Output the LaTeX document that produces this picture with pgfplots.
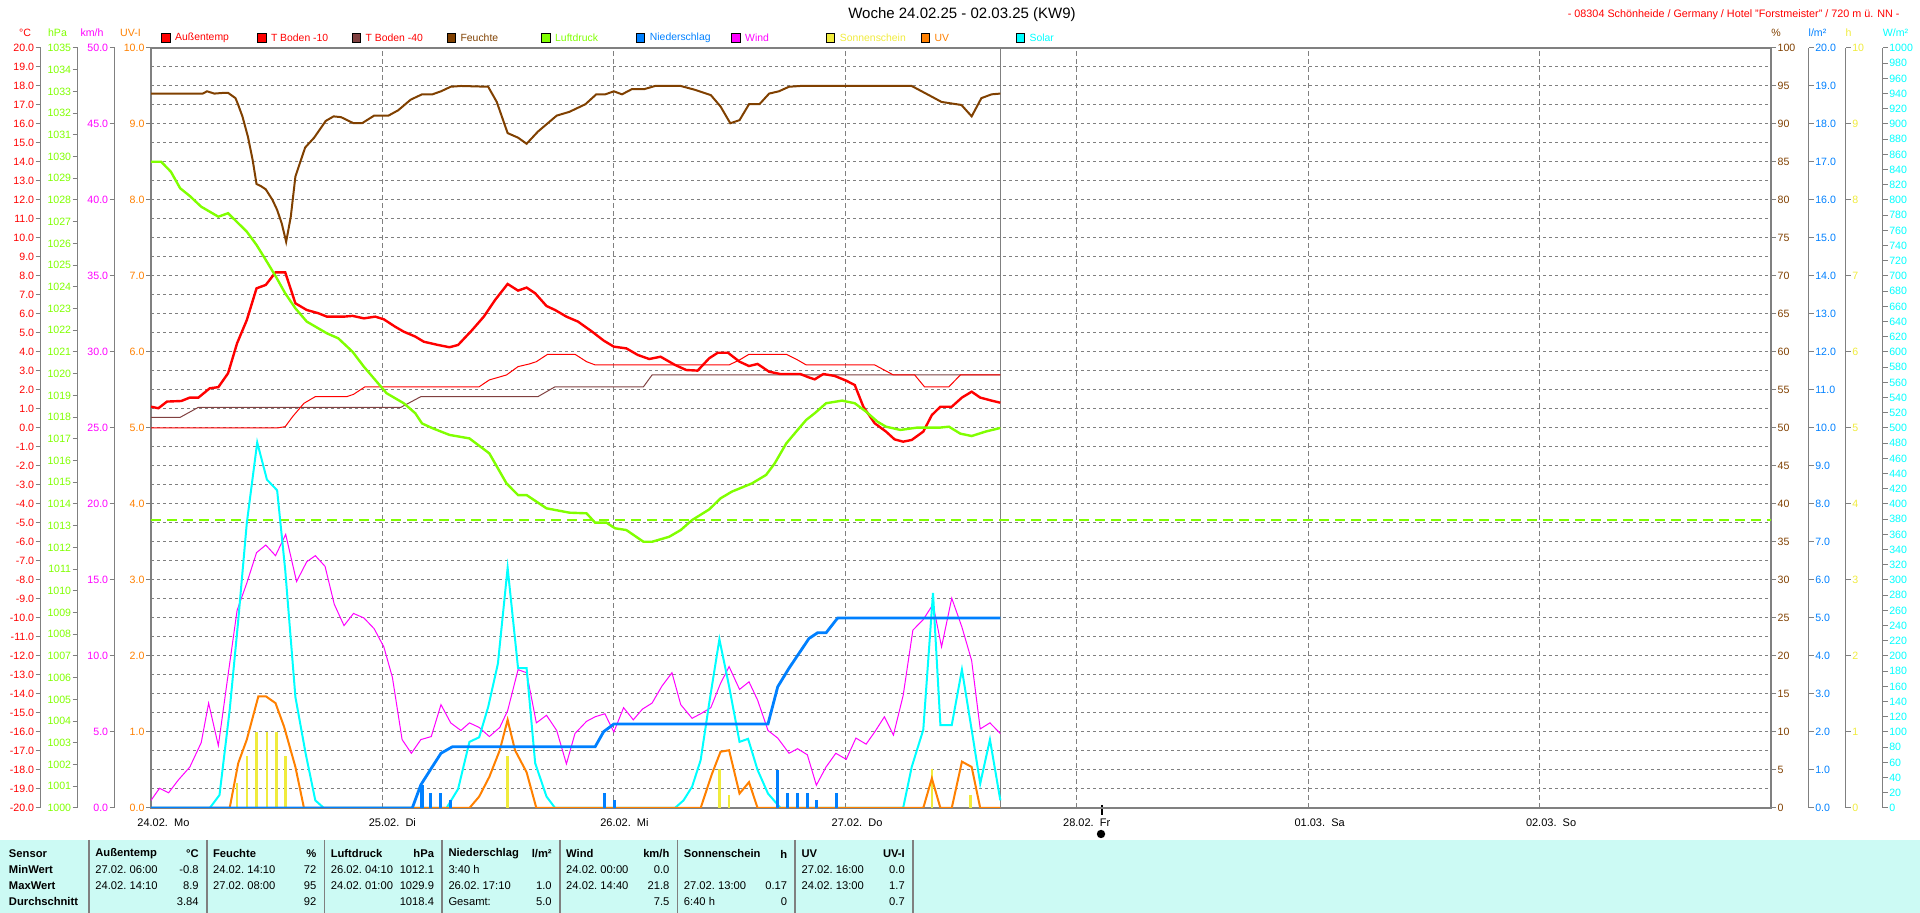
\documentclass[border=0pt]{standalone}
\usepackage{pgfplots}
\pgfplotsset{compat=1.18}
\usepackage{fontspec}
\setmainfont{Liberation Sans}
\definecolor{cT}{RGB}{255,0,0}
\definecolor{cB}{RGB}{128,64,64}
\definecolor{cF}{RGB}{128,64,0}
\definecolor{cP}{RGB}{128,255,0}
\definecolor{cN}{RGB}{0,128,255}
\definecolor{cW}{RGB}{255,0,255}
\definecolor{cS}{RGB}{240,235,60}
\definecolor{cUV}{RGB}{255,128,0}
\definecolor{cSol}{RGB}{0,255,255}
\definecolor{cG}{RGB}{128,128,128}
\definecolor{cTab}{RGB}{204,250,244}
\newcommand\fa{\fontsize{5.3}{6}\selectfont}
\newcommand\ft{\fontsize{5.6}{6.5}\selectfont}
\newcommand\fl{\fontsize{5.2}{6}\selectfont}
\pgfplotsset{
  lay/.style={at={(75.5pt,52.5pt)}, anchor=south west, width=810pt, height=380pt,
    scale only axis, xmin=0, xmax=7, clip=true},
  tl/.style={/pgf/number format/assume math mode=true, /pgf/number format/1000 sep={},
    tick label style={font=\fa, inner sep=0.6pt}},
  one/.style={y tick label style={/pgf/number format/fixed, /pgf/number format/fixed zerofill, /pgf/number format/precision=1}},
  over/.style={lay, tl, hide x axis, axis line style={draw=cG, line width=0.5pt},
    tick style={draw=cG, line width=0.5pt}, major tick length=2.5pt, tick align=outside},
  hid/.style={lay, hide axis},
}
\begin{document}
\begin{tikzpicture}
\useasboundingbox (0,0) rectangle (960pt,456.5pt);
\begin{scope}[x=0.5pt,y=-0.5pt,yshift=456.5pt]
\fill[cTab] (0,840) rectangle (1920,913);
\foreach \s in {89,206.7,324.4,442.1,559.8,677.5,795.2,912.9}
  \draw[cG, line width=0.8pt] (\s,840) -- (\s,913);
% title and location
\node[font=\fontsize{7.5}{9}\selectfont] at (962,15) {Woche 24.02.25 - 02.03.25 (KW9)};
\node[font=\fontsize{5.4}{6}\selectfont, text=cT, anchor=east, inner sep=0pt] at (1900,15) {- 08304 Schönheide / Germany / Hotel "Forstmeister" / 720 m ü. NN -};
% legend
\foreach \x/\c/\tc/\t in {161.6/cT/cT/Außentemp, 257.4/cT/cT/T Boden -10, 352/cB/cT/T Boden -40, 447/cF/cF/Feuchte, 541.6/cP/cP/Luftdruck, 636.3/cN/cN/Niederschlag, 731.6/cW/cW/Wind, 826.3/cS/cS/Sonnenschein, 921/cUV/cUV/UV, 1016/cSol/cSol/Solar}{
  \filldraw[fill=\c, draw=black, line width=0.5pt] (\x,33.5) rectangle ++(8.6,9);
  \node[font=\fl, text=\tc, anchor=west, inner sep=0pt] at (\x+13.2,38) {\t};
}
% unit labels
\node[font=\fa, text=cT] at (25,33) {°C};
\node[font=\fa, text=cP] at (57.5,33) {hPa};
\node[font=\fa, text=cW] at (92,33) {km/h};
\node[font=\fa, text=cUV] at (130.5,33) {UV-I};
\node[font=\fa, text=cF] at (1776,33) {\%};
\node[font=\fa, text=cN] at (1817.5,33) {l/m²};
\node[font=\fa, text=cS] at (1848.5,33) {h};
\node[font=\fa, text=cSol] at (1895.5,33) {W/m²};
% x labels
\foreach \k/\t in {0/24.02.\ \ Mo, 1/25.02.\ \ Di, 2/26.02.\ \ Mi, 3/27.02.\ \ Do, 4/28.02.\ \ Fr, 5/01.03.\ \ Sa, 6/02.03.\ \ So}
  \node[font=\fontsize{5.5}{6}\selectfont, anchor=west, inner sep=0pt] at (151+231.43*\k-14,823) {\t};
\draw[black, line width=0.6pt] (1102,805) -- (1102,815);
\fill[black] (1101,834) circle (4.2);
% table
\begin{scope}[font=\ft]
\foreach \y/\t in {854/Sensor, 870/MinWert, 886/MaxWert, 901.7/Durchschnitt}
  \node[anchor=west, inner sep=0pt, font=\ft\bfseries] at (8.6,\y) {\t};
\foreach \x/\t/\u in {95/Außentemp/°C, 212.7/Feuchte/\%, 330.4/Luftdruck/hPa, 448.1/Niederschlag/{l/m²}, 565.8/Wind/{km/h}, 683.5/Sonnenschein/h, 801.2/UV/UV-I}{
  \node[anchor=west, inner sep=0pt, font=\ft\bfseries] at (\x,854) {\t};
  \node[anchor=east, inner sep=0pt, font=\ft\bfseries] at (\x+104,854) {\u};
}
\foreach \x/\y/\a/\b in {
  95/870/27.02.\ 06:00/-0.8, 95/886/24.02.\ 14:10/8.9, 95/901.7//3.84,
  212.7/870/24.02.\ 14:10/72, 212.7/886/27.02.\ 08:00/95, 212.7/901.7//92,
  330.4/870/26.02.\ 04:10/1012.1, 330.4/886/24.02.\ 01:00/1029.9, 330.4/901.7//1018.4,
  448.1/870/3:40 h/, 448.1/886/26.02.\ 17:10/1.0, 448.1/901.7/Gesamt:/5.0,
  565.8/870/24.02.\ 00:00/0.0, 565.8/886/24.02.\ 14:40/21.8, 565.8/901.7//7.5,
  683.5/886/27.02.\ 13:00/0.17, 683.5/901.7/6:40 h/0,
  801.2/870/27.02.\ 16:00/0.0, 801.2/886/24.02.\ 13:00/1.7, 801.2/901.7//0.7}{
  \node[anchor=west, inner sep=0pt] at (\x,\y) {\a};
  \node[anchor=east, inner sep=0pt] at (\x+104,\y) {\b};
}
\end{scope}
\end{scope}

% frame axis with UV scale and grid
\begin{axis}[lay, tl, one,
  ymin=0, ymax=10, ytick={0,1,...,10}, ytick pos=left,
  yticklabel style={text=cUV},
  minor y tick num=3, ymajorgrids, yminorgrids,
  grid style={cG, line width=0.5pt, dash pattern=on 1.5pt off 1.5pt},
  xtick=\empty,
  axis line style={cG, line width=1pt},
  tick align=outside, major tick length=2.5pt, minor tick length=0pt,
  ytick style={cG, line width=0.5pt}]
\pgfplotsinvokeforeach{1,...,6}{\draw[cG, line width=0.5pt, dash pattern=on 2.5pt off 1.5pt] (axis cs:#1,0) -- (axis cs:#1,10);}
\draw[cG, line width=0.5pt] (axis cs:3.67,0) -- (axis cs:3.67,10);
\end{axis}

% temperature axis
\begin{axis}[over, one, ymin=-20, ymax=20, ytick={-20,-19,...,20},
  axis y line*=left, axis y line shift=55.15pt, yticklabel style={text=cT}]
\addplot[cB, line width=0.5pt] coordinates {(0,0.56) (0.126,0.56) (0.205,1.09) (1.080,1.09) (1.166,1.65) (1.672,1.65) (1.746,2.17) (2.128,2.17) (2.165,2.79) (3.670,2.79)};
\addplot[cT, line width=0.5pt] coordinates {(0,0.0) (0.545,0.0) (0.580,0.07) (0.612,0.6) (0.661,1.3) (0.710,1.65) (0.846,1.65) (0.875,1.77) (0.925,2.17) (1.418,2.17) (1.462,2.53) (1.536,2.79) (1.586,3.23) (1.635,3.37) (1.665,3.49) (1.714,3.88) (1.832,3.88) (1.882,3.49) (1.919,3.32) (2.498,3.32) (2.543,3.58) (2.584,3.88) (2.745,3.88) (2.794,3.58) (2.831,3.32) (3.127,3.32) (3.208,2.79) (3.300,2.79) (3.342,2.17) (3.448,2.17) (3.497,2.79) (3.670,2.79)};
\addplot[cT, line width=1.2pt] coordinates {(0,1.12) (0.032,1.04) (0.069,1.39) (0.131,1.42) (0.168,1.6) (0.205,1.6) (0.254,2.09) (0.291,2.15) (0.333,2.88) (0.372,4.46) (0.414,5.68) (0.456,7.35) (0.496,7.53) (0.538,8.19) (0.580,8.19) (0.624,6.56) (0.673,6.21) (0.723,6.04) (0.760,5.86) (0.834,5.86) (0.871,5.90) (0.920,5.77) (0.969,5.86) (1.006,5.72) (1.055,5.33) (1.092,5.07) (1.142,4.81) (1.179,4.54) (1.240,4.37) (1.290,4.25) (1.327,4.37) (1.388,5.16) (1.438,5.86) (1.487,6.74) (1.541,7.58) (1.586,7.23) (1.623,7.39) (1.660,7.09) (1.709,6.42) (1.746,6.21) (1.795,5.86) (1.845,5.60) (1.906,5.07) (1.956,4.60) (2.000,4.28) (2.054,4.19) (2.104,3.84) (2.153,3.63) (2.202,3.75) (2.264,3.32) (2.313,3.05) (2.362,3.02) (2.412,3.67) (2.449,3.96) (2.493,3.96) (2.543,3.49) (2.584,3.26) (2.621,3.37) (2.671,2.96) (2.720,2.84) (2.806,2.84) (2.843,2.66) (2.868,2.56) (2.905,2.84) (2.954,2.74) (3.004,2.49) (3.041,2.26) (3.078,1.12) (3.127,0.25) (3.176,-0.19) (3.213,-0.60) (3.250,-0.72) (3.287,-0.63) (3.337,-0.19) (3.374,0.68) (3.411,1.12) (3.460,1.12) (3.504,1.60) (3.546,1.91) (3.583,1.60) (3.632,1.44) (3.670,1.33)};
\end{axis}

% humidity axis (right frame)
\begin{axis}[over, ymin=0, ymax=100, ytick={0,5,...,100},
  axis y line*=right, yticklabel style={text=cF}]
\addplot[cF, line width=1pt] coordinates {(0,94.0) (0.224,94.0) (0.242,94.3) (0.274,94.0) (0.316,94.1) (0.333,94.1) (0.365,93.4) (0.377,92.5) (0.395,91.0) (0.419,88.3) (0.439,85.3) (0.456,82.1) (0.476,81.8) (0.496,81.4) (0.525,80.0) (0.545,78.7) (0.565,76.9) (0.584,74.5) (0.604,77.8) (0.624,83.1) (0.666,86.9) (0.705,88.2) (0.755,90.4) (0.789,91.0) (0.821,90.9) (0.875,90.1) (0.912,90.1) (0.964,91.1) (1.026,91.1) (1.068,91.8) (1.122,93.2) (1.171,93.9) (1.216,93.9) (1.253,94.3) (1.295,94.9) (1.339,95.0) (1.457,94.9) (1.494,92.9) (1.541,88.8) (1.586,88.2) (1.623,87.4) (1.672,89.0) (1.753,91.1) (1.808,91.6) (1.877,92.6) (1.924,93.9) (1.963,93.9) (2.000,94.3) (2.035,93.9) (2.079,94.6) (2.133,94.6) (2.178,95.0) (2.289,95.0) (2.350,94.5) (2.419,93.8) (2.461,92.3) (2.503,90.1) (2.543,90.5) (2.584,92.6) (2.629,92.6) (2.671,94.0) (2.713,94.3) (2.757,94.9) (2.806,95.0) (3.287,95.0) (3.361,93.8) (3.416,92.9) (3.502,92.5) (3.546,91.0) (3.588,93.4) (3.632,93.9) (3.670,94.0)};
\end{axis}

% pressure axis
\begin{axis}[over, ymin=1000, ymax=1035, ytick={1000,1001,...,1035},
  axis y line*=left, axis y line shift=36.65pt, yticklabel style={text=cP}]
\addplot[cP, line width=0.9pt, dash pattern=on 5pt off 3pt] coordinates {(0,1013.25) (7,1013.25)};
\addplot[cP, line width=1.2pt] coordinates {(0,1029.76) (0.044,1029.76) (0.086,1029.30) (0.126,1028.54) (0.168,1028.18) (0.217,1027.69) (0.254,1027.46) (0.291,1027.23) (0.333,1027.39) (0.377,1026.93) (0.414,1026.54) (0.456,1025.93) (0.496,1025.24) (0.538,1024.50) (0.580,1023.70) (0.624,1023.01) (0.673,1022.40) (0.710,1022.17) (0.760,1021.86) (0.809,1021.63) (0.871,1021.01) (0.920,1020.32) (0.969,1019.71) (1.018,1019.10) (1.092,1018.64) (1.142,1018.18) (1.171,1017.71) (1.216,1017.49) (1.290,1017.18) (1.376,1017.02) (1.462,1016.33) (1.536,1014.95) (1.586,1014.41) (1.623,1014.41) (1.709,1013.80) (1.808,1013.60) (1.882,1013.57) (1.919,1013.14) (1.968,1013.14) (2.005,1012.88) (2.054,1012.80) (2.128,1012.26) (2.165,1012.26) (2.239,1012.49) (2.289,1012.80) (2.338,1013.26) (2.412,1013.75) (2.461,1014.26) (2.510,1014.57) (2.597,1014.95) (2.658,1015.34) (2.695,1015.87) (2.745,1016.79) (2.794,1017.41) (2.831,1017.87) (2.868,1018.18) (2.917,1018.64) (2.986,1018.76) (3.041,1018.64) (3.090,1018.25) (3.139,1017.79) (3.176,1017.56) (3.238,1017.41) (3.312,1017.52) (3.411,1017.52) (3.448,1017.56) (3.497,1017.24) (3.546,1017.13) (3.608,1017.34) (3.670,1017.50)};
\end{axis}

% wind axis
\begin{axis}[over, one, ymin=0, ymax=50, ytick={0,5,...,50},
  axis y line*=left, axis y line shift=18.15pt, yticklabel style={text=cW}]
\addplot[cW, line width=0.5pt] coordinates {(0,0.5) (0.037,1.3) (0.076,1.0) (0.118,1.84) (0.168,2.7) (0.217,4.3) (0.249,6.9) (0.291,4.1) (0.328,8.2) (0.372,13.0) (0.414,14.8) (0.456,16.8) (0.496,17.3) (0.538,16.6) (0.582,18.0) (0.629,14.9) (0.673,16.2) (0.710,16.6) (0.752,15.9) (0.792,13.4) (0.834,12.0) (0.875,12.8) (0.920,12.5) (0.964,11.8) (1.006,10.6) (1.043,8.6) (1.085,4.5) (1.125,3.6) (1.166,4.5) (1.211,4.7) (1.253,6.8) (1.295,5.6) (1.339,5.1) (1.376,5.6) (1.418,5.3) (1.462,4.7) (1.507,5.3) (1.541,6.4) (1.586,9.1) (1.623,8.9) (1.665,5.6) (1.709,6.1) (1.753,5.1) (1.795,2.9) (1.832,4.9) (1.882,5.7) (1.919,6.0) (1.961,6.2) (2.000,5.0) (2.042,6.6) (2.084,5.8) (2.123,6.5) (2.165,6.9) (2.207,8.0) (2.251,8.9) (2.289,6.8) (2.338,5.9) (2.375,6.2) (2.419,6.6) (2.461,8.2) (2.498,9.3) (2.543,7.8) (2.584,8.3) (2.621,7.1) (2.666,5.1) (2.708,4.6) (2.757,3.6) (2.794,3.9) (2.836,3.5) (2.875,1.5) (2.917,2.7) (2.959,3.6) (3.004,3.2) (3.046,4.6) (3.090,4.2) (3.127,5.0) (3.169,6.0) (3.208,4.8) (3.250,7.4) (3.292,11.7) (3.337,12.4) (3.379,13.4) (3.416,10.6) (3.460,13.8) (3.504,11.9) (3.546,9.7) (3.583,5.2) (3.625,5.6) (3.670,4.9)};
\end{axis}

% solar axis
\begin{axis}[over, ymin=0, ymax=1000, ytick={0,20,...,1000},
  axis y line*=right, axis y line shift=55.85pt, yticklabel style={text=cSol}]
\addplot[cSol, line width=1pt] coordinates {(0,0) (0.254,0) (0.296,17) (0.340,129) (0.377,247) (0.414,375) (0.459,481) (0.501,432) (0.545,418) (0.580,313) (0.624,146) (0.668,72) (0.710,10) (0.747,0) (1.277,0) (1.327,25) (1.376,87) (1.418,93) (1.457,133) (1.499,190) (1.541,316) (1.586,184) (1.623,184) (1.660,59) (1.709,15) (1.746,0) (2.264,0) (2.301,10) (2.338,28) (2.375,63) (2.412,138) (2.456,222) (2.498,160) (2.543,87) (2.580,91) (2.621,50) (2.666,19) (2.720,0) (3.250,0) (3.287,54) (3.337,103) (3.379,283) (3.411,109) (3.460,109) (3.504,182) (3.546,103) (3.583,32) (3.625,90) (3.670,10)};
\end{axis}

% sunshine axis
\begin{axis}[over, ymin=0, ymax=10, ytick={0,1,...,10},
  axis y line*=right, axis y line shift=37.35pt, yticklabel style={text=cS}]
\addplot[cS, line width=1.3pt, ycomb] coordinates {(0.372,0.33) (0.414,0.68) (0.456,1.0) (0.501,1.0) (0.543,1.0) (0.582,0.68) (1.541,0.68) (2.456,0.51) (2.498,0.17) (3.374,0.51) (3.541,0.17)};
\end{axis}

% UV data
\begin{axis}[hid, ymin=0, ymax=10]
\addplot[cUV, line width=1pt] coordinates {(0,0) (0.340,0) (0.377,0.59) (0.414,0.90) (0.464,1.47) (0.496,1.47) (0.538,1.38) (0.575,1.07) (0.624,0.54) (0.661,0) (1.376,0) (1.418,0.15) (1.462,0.41) (1.507,0.76) (1.541,1.16) (1.573,0.76) (1.623,0.47) (1.665,0) (2.375,0) (2.424,0.45) (2.461,0.74) (2.498,0.76) (2.543,0.19) (2.584,0.34) (2.621,0) (3.337,0) (3.374,0.39) (3.411,0) (3.460,0) (3.504,0.61) (3.546,0.54) (3.583,0) (3.670,0)};
\end{axis}

% precipitation axis
\begin{axis}[over, one, ymin=0, ymax=20, ytick={0,1,...,20},
  axis y line*=right, axis y line shift=18.85pt, yticklabel style={text=cN}]
\addplot[cN, line width=1.6pt, ycomb] coordinates {(1.171,0.6) (1.208,0.4) (1.250,0.4) (1.295,0.2) (1.961,0.4) (2.002,0.2) (2.708,1.0) (2.750,0.4) (2.794,0.4) (2.836,0.4) (2.875,0.2) (2.962,0.4)};
\addplot[cN, line width=1.4pt] coordinates {(0,0) (1.129,0) (1.166,0.61) (1.216,1.09) (1.253,1.44) (1.302,1.61) (1.919,1.61) (1.956,2.01) (2.000,2.21) (2.666,2.21) (2.708,3.19) (2.757,3.68) (2.843,4.46) (2.880,4.61) (2.917,4.61) (2.967,5.0) (3.670,5.0)};
\end{axis}
\end{tikzpicture}
\end{document}
